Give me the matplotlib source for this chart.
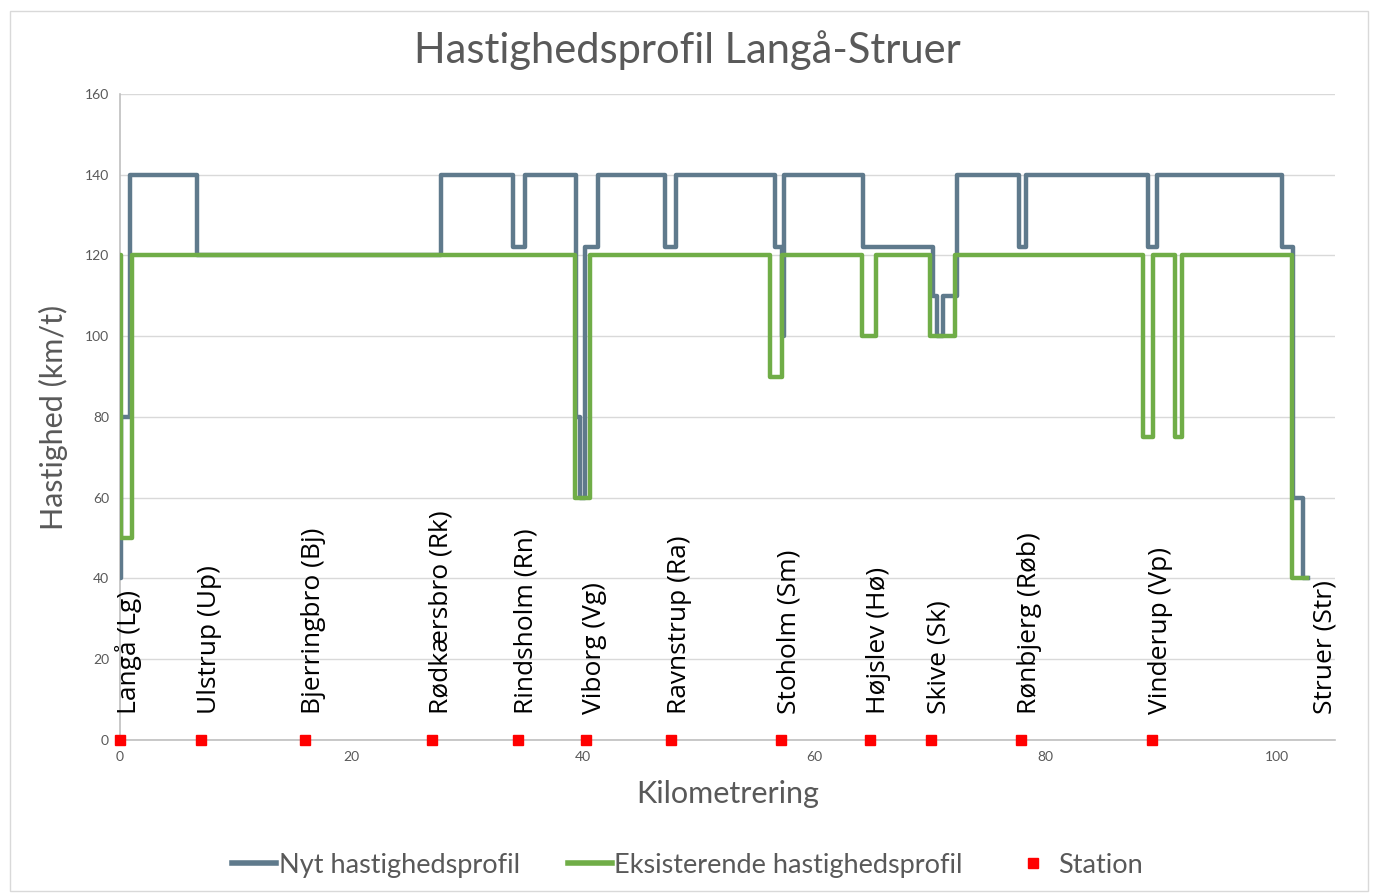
import matplotlib.pyplot as plt
from matplotlib.lines import Line2D
from matplotlib.patches import Rectangle

# =========================
# Data
# =========================

# Nyt hastighedsprofil (step breakpoints, km / km/t)
nyt_km = [0, 0.1, 0.9, 6.65, 27.7, 34.0, 35.0, 39.4, 39.75, 40.2, 41.3,
          47.1, 48.05, 56.6, 57.2, 57.4, 64.2, 70.3, 70.6, 71.1, 72.3,
          77.7, 78.3, 88.8, 89.6, 100.4, 101.4, 102.2, 102.7]
nyt_speed = [40, 80, 140, 120, 140, 122, 140, 80, 60, 122, 140,
             122, 140, 122, 100, 140, 122, 110, 100, 110, 140,
             122, 140, 122, 140, 122, 60, 40, 40]

# Eksisterende hastighedsprofil
eks_km = [0, 0.05, 1.0, 39.3, 40.6, 56.2, 57.2, 64.1, 65.3, 70.0, 72.2,
          88.4, 89.3, 91.2, 91.8, 101.3, 102.6]
eks_speed = [120, 50, 120, 60, 120, 90, 120, 100, 120, 100, 120,
             75, 120, 75, 120, 40, 40]

# Stations
station_names = ["Langå (Lg)", "Ulstrup (Up)", "Bjerringbro (Bj)",
                 "Rødkærsbro (Rk)", "Rindsholm (Rn)", "Viborg (Vg)",
                 "Ravnstrup (Ra)", "Stoholm (Sm)", "Højslev (Hø)",
                 "Skive (Sk)", "Rønbjerg (Røb)", "Vinderup (Vp)",
                 "Struer (Str)"]
station_km = [0, 7.0, 16.0, 27.0, 34.4, 40.3, 47.6, 57.1, 64.8, 70.1,
              77.9, 89.2, 103.4]
station_marked = [True] * 12 + [False]

x_ticks = [0, 20, 40, 60, 80, 100]
y_ticks = [0, 20, 40, 60, 80, 100, 120, 140, 160]

# =========================
# Styling
# =========================

BLUE = "#5f7a8c"
GREEN = "#70ad47"
RED = "#ff0000"
GRAY_TEXT = "#595959"
GRID = "#d9d9d9"

plt.rcParams["font.family"] = ["Lato", "DejaVu Sans"]

fig = plt.figure(figsize=(13.75, 8.94), dpi=100)
fig.patches.append(Rectangle((0.007, 0.003), 0.988, 0.985, transform=fig.transFigure,
                             fill=False, edgecolor="#d9d9d9", linewidth=1))

ax = fig.add_axes([0.0873, 0.1723, 0.8836, 0.7226])

ax.plot(nyt_km, nyt_speed, drawstyle="steps-post", color=BLUE, linewidth=3.2,
        solid_joinstyle="round", zorder=3)
ax.plot(eks_km, eks_speed, drawstyle="steps-post", color=GREEN, linewidth=3.2,
        solid_joinstyle="round", zorder=4)

for km, name, marked in zip(station_km, station_names, station_marked):
    if marked:
        ax.plot([km], [0], "s", color=RED, markersize=7, zorder=5, clip_on=False)
    ax.annotate(name, (km, 0), xytext=(6, 19), textcoords="offset points",
                rotation=90, ha="center", va="bottom", fontsize=19,
                color="black", family=["Open Sans", "DejaVu Sans"])

ax.set_xlim(0, 105)
ax.set_ylim(0, 160)
ax.set_xticks(x_ticks)
ax.set_yticks(y_ticks)
ax.tick_params(axis="both", length=0, labelsize=10, labelcolor=GRAY_TEXT, pad=8)
ax.grid(axis="y", color=GRID, linewidth=1)
ax.set_axisbelow(True)
for side in ["top", "right"]:
    ax.spines[side].set_visible(False)
for side in ["left", "bottom"]:
    ax.spines[side].set_color("#bfbfbf")
    ax.spines[side].set_linewidth(1.2)

fig.text(0.5, 0.944, "Hastighedsprofil Langå-Struer", fontsize=30, color=GRAY_TEXT,
         ha="center", va="center")
ax.set_xlabel("Kilometrering", fontsize=22, color=GRAY_TEXT, labelpad=12)
ax.set_ylabel("Hastighed (km/t)", fontsize=22, color=GRAY_TEXT, labelpad=12)

handles = [
    Line2D([], [], color=BLUE, linewidth=4),
    Line2D([], [], color=GREEN, linewidth=4),
    Line2D([], [], color=RED, marker="s", linestyle="none", markersize=7),
]
labels = ["Nyt hastighedsprofil", "Eksisterende hastighedsprofil", "Station"]
leg = fig.legend(handles, labels, loc="center", bbox_to_anchor=(0.5, 0.032), ncol=3,
                 frameon=False, fontsize=19.5, handlelength=1.6, handletextpad=0.1,
                 columnspacing=1.8)
for t in leg.get_texts():
    t.set_color(GRAY_TEXT)

fig.savefig("out.png", dpi=100)
